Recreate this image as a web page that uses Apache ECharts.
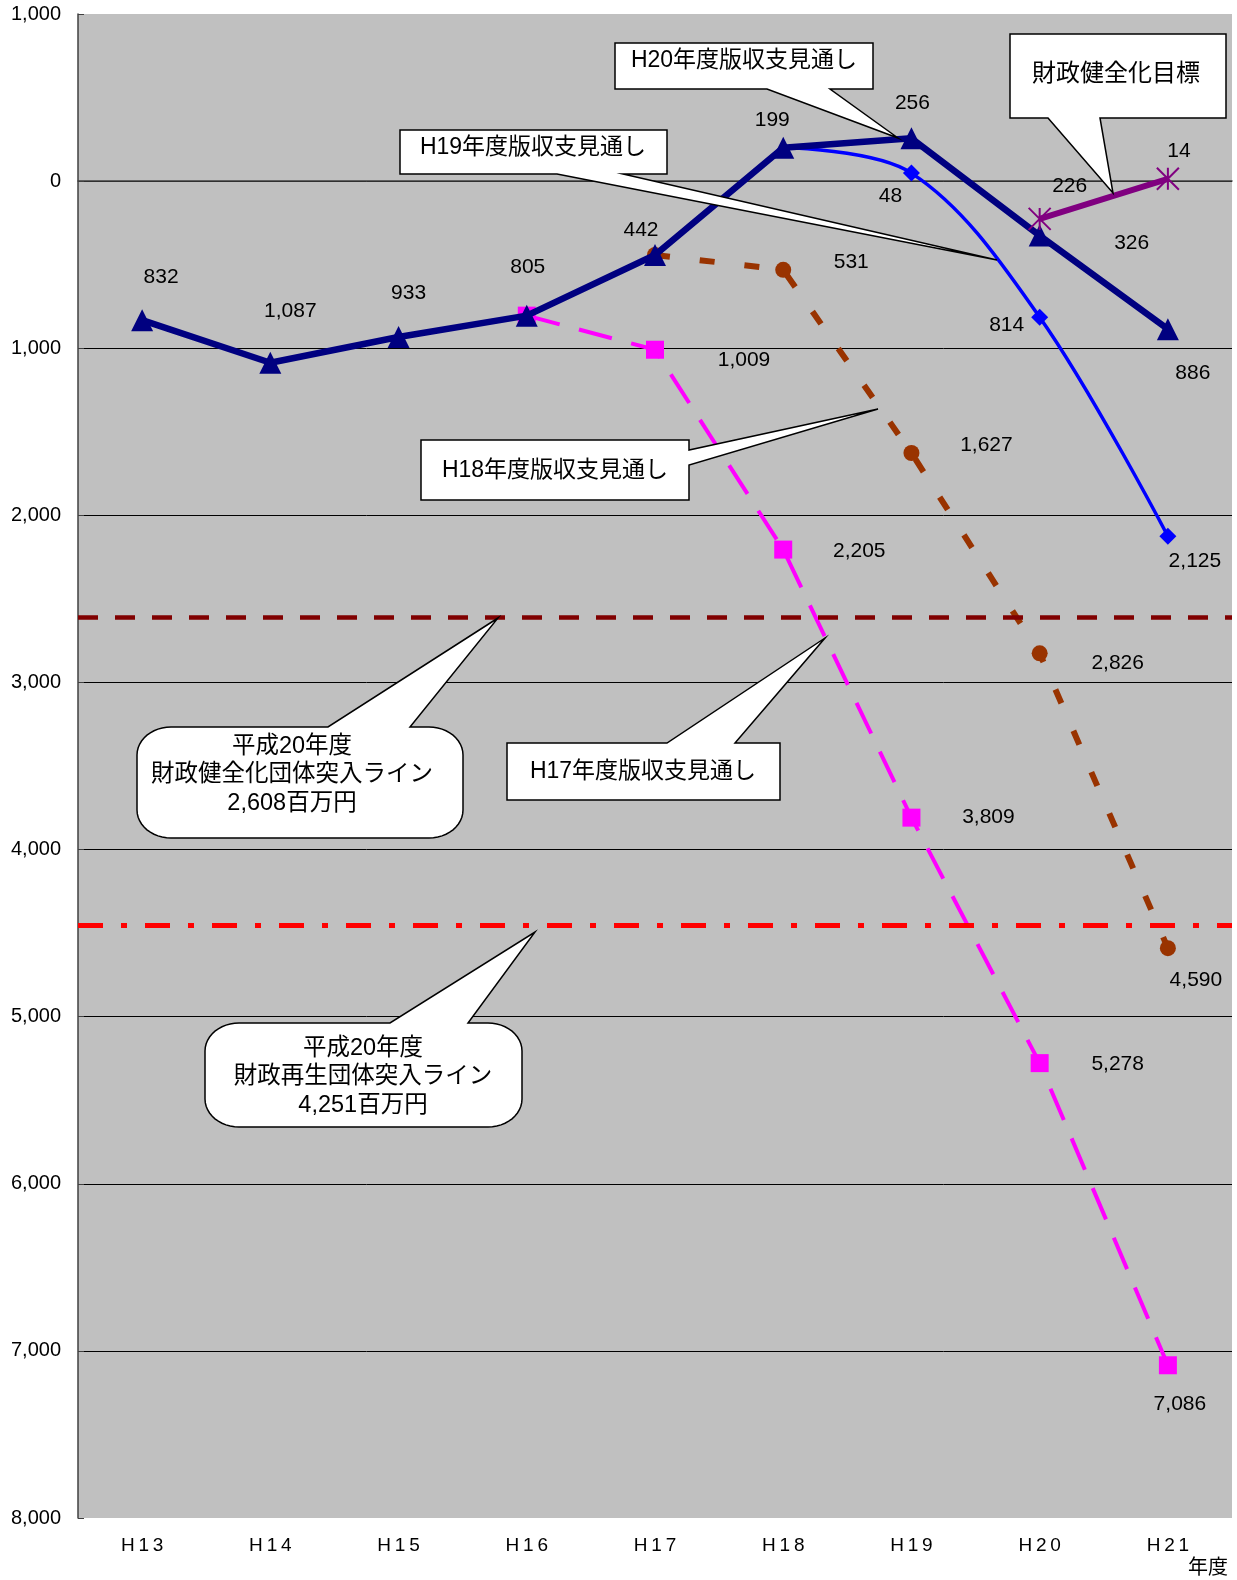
<!DOCTYPE html>
<html><head><meta charset="utf-8">
<script src="https://cdn.jsdelivr.net/npm/echarts@6/dist/echarts.min.js"></script>
<style>html,body{margin:0;padding:0;background:#fff}#c{width:1237px;height:1580px}</style>
</head><body><div id="c"></div>
<script>
// ---- data ----
const categories = ['H13','H14','H15','H16','H17','H18','H19','H20','H21'];
const yMin = -8000, yMax = 1000, yStep = 1000;
const planH20 = [-832, -1087, -933, -805, -442, 199, 256, -326, -886];
const planH19 = [null, null, null, null, null, 199, 48, -814, -2125];
const planH18 = [null, null, null, null, -442, -531, -1627, -2826, -4590];
const planH17 = [null, null, null, -805, -1009, -2205, -3809, -5278, -7086];
const target  = [null, null, null, null, null, null, null, -226, 14];
const kenzenkaLine = -2608;   // 財政健全化団体突入ライン
const saiseiLine = -4450;     // 財政再生団体突入ライン (drawn position)

// ---- label offsets (styling) ----
const offH20 = [[19,-43],[20,-52],[10,-44],[1,-48],[-14,-25],[-11,-28],[1,-35],[92,8],[25,44]];
const offH19 = [null,null,null,null,null,null,[-21,23],[-33,8],[27,25]];
const offH18 = [null,null,null,null,null,[68,-8],[75,-8],[78,10],[28,32]];
const offH17 = [null,null,null,null,[89,10],[76,2],[77,0],[78,1],[12,39]];
const offTgt = [null,null,null,null,null,null,null,[30,-33],[11,-28]];

const FONT = '"Liberation Sans", "Noto Sans CJK JP", sans-serif';
const fmt = v => Math.abs(v).toLocaleString('en-US');

function items(vals, offs, noSymFirst) {
  let first = true;
  return vals.map((v, i) => {
    if (v === null) return '-';
    const it = { value: v };
    if (offs[i]) {
      it.label = { show: true, position: 'inside', offset: offs[i] };
    } else {
      it.label = { show: false };
    }
    if (noSymFirst && first) it.symbol = 'none';
    first = false;
    return it;
  });
}

const labelBase = {
  show: true, position: 'inside', color: '#000', fontSize: 21, fontFamily: FONT,
  formatter: p => fmt(p.value)
};

// ---- callout geometry helpers ----
function rectCallout(x1, y1, x2, y2, side, b1, b2, tip) {
  if (side === 'bottom') return [[x1,y1],[x2,y1],[x2,y2],[b2,y2],tip,[b1,y2],[x1,y2]];
  if (side === 'right') return [[x1,y1],[x2,y1],[x2,b1],tip,[x2,b2],[x2,y2],[x1,y2]];
  return [[x1,y1],[b1,y1],tip,[b2,y1],[x2,y1],[x2,y2],[x1,y2]];
}
function bubble(x1, y1, x2, y2, rx, ry, b1, b2, tip) {
  const pts = [[x1+rx, y1], [b1, y1], tip, [b2, y1], [x2-rx, y1]];
  const arc = (cx, cy, a0, a1) => {
    for (let k = 0; k <= 12; k++) {
      const a = (a0 + (a1 - a0) * k / 12) * Math.PI / 180;
      pts.push([cx + rx * Math.cos(a), cy + ry * Math.sin(a)]);
    }
  };
  arc(x2-rx, y1+ry, -90, 0);
  arc(x2-rx, y2-ry, 0, 90);
  arc(x1+rx, y2-ry, 90, 180);
  arc(x1+rx, y1+ry, 180, 270);
  return pts;
}
const boxStyle = { fill: '#fff', stroke: '#000', lineWidth: 1.5 };
function poly(points) { return { type: 'polygon', z: 100, shape: { points }, style: boxStyle }; }
function txt(x, y, text, size, lh) {
  return { type: 'text', z: 101, x, y, style: {
    text, font: size + 'px ' + FONT, fill: '#000',
    align: 'center', verticalAlign: 'middle', textAlign: 'center', textVerticalAlign: 'middle',
    lineHeight: lh || size
  }};
}

const graphics = [
  poly(rectCallout(615, 43, 873, 89, 'bottom', 767, 830, [898, 138])),
  txt(744, 61, 'H20年度版収支見通し', 23),
  poly(rectCallout(400, 130, 667, 174, 'bottom', 557, 623, [997, 260])),
  txt(533, 148, 'H19年度版収支見通し', 23),
  poly(rectCallout(421, 440, 689, 500, 'right', 450, 465, [878, 409])),
  txt(555, 471, 'H18年度版収支見通し', 23),
  poly(rectCallout(507, 743, 780, 800, 'top', 667, 735, [825, 638])),
  txt(643, 772, 'H17年度版収支見通し', 23),
  poly(rectCallout(1010, 34, 1226, 118, 'bottom', 1048, 1100, [1113, 193])),
  txt(1116, 74, '財政健全化目標', 24),
  poly(bubble(137, 727, 463, 838, 34, 28, 328, 410, [498, 618])),
  txt(292, 775, '平成20年度\n財政健全化団体突入ライン\n2,608百万円', 23.5, 28.5),
  poly(bubble(205, 1023, 522, 1127, 34, 28, 390, 468, [535, 932])),
  txt(363, 1077, '平成20年度\n財政再生団体突入ライン\n4,251百万円', 23.5, 28.5),
  { type: 'text', z: 101, x: 1208, y: 1568, style: { text: '年度', font: '20px ' + FONT, fill: '#000',
    align: 'center', verticalAlign: 'middle', textAlign: 'center', textVerticalAlign: 'middle' } }
];

const chart = echarts.init(document.getElementById('c'), null, { renderer: 'canvas' });
chart.setOption({
  animation: false,
  backgroundColor: '#fff',
  grid: { left: 78, right: 5, top: 14, bottom: 62, show: true, backgroundColor: '#C0C0C0', borderWidth: 0 },
  xAxis: {
    type: 'category', data: categories, boundaryGap: true,
    axisLine: { lineStyle: { color: '#404040', width: 1.5 } },
    axisTick: { inside: true, length: 6, lineStyle: { color: '#404040' } },
    axisLabel: { fontSize: 19, color: '#000', fontFamily: FONT, margin: 18,
      formatter: v => v.split('').join('\u2009') },
    splitLine: { show: false }
  },
  yAxis: {
    type: 'value', min: yMin, max: yMax, interval: yStep,
    axisLine: { show: true, lineStyle: { color: '#404040', width: 1.5 } },
    axisTick: { show: true, inside: true, length: 6, lineStyle: { color: '#404040' } },
    axisLabel: { fontSize: 20, color: '#000', fontFamily: FONT, margin: 17, formatter: v => fmt(v) },
    splitLine: { show: true, showMaxLine: false, showMinLine: false, lineStyle: { color: '#000', width: 1 } }
  },
  series: [
    {
      type: 'line', z: 1, data: categories.map(() => '-'), symbol: 'none', silent: true,
      markLine: {
        silent: true, symbol: 'none', label: { show: false },
        data: [
          { yAxis: kenzenkaLine, lineStyle: { color: '#800000', width: 4.5, type: [20, 17] } },
          { yAxis: saiseiLine, lineStyle: { color: '#FF0000', width: 5, type: [25, 18, 6, 18] } }
        ]
      }
    },
    {
      name: 'H17年度版', type: 'line', z: 3, data: items(planH17, offH17),
      symbol: 'rect', symbolSize: 18, showAllSymbol: true,
      itemStyle: { color: '#FF00FF', borderWidth: 0 },
      lineStyle: { color: '#FF00FF', width: 4, type: [34, 20] },
      label: labelBase
    },
    {
      name: 'H18年度版', type: 'line', z: 4, data: items(planH18, offH18),
      symbol: 'circle', symbolSize: 16, showAllSymbol: true,
      itemStyle: { color: '#993300', borderWidth: 0 },
      lineStyle: { color: '#993300', width: 6, type: [15, 30] },
      label: labelBase
    },
    {
      name: 'H19年度版', type: 'line', z: 5, data: items(planH19, offH19, true),
      symbol: 'diamond', symbolSize: 17, showAllSymbol: true, smooth: 0.35,
      itemStyle: { color: '#0000FF', borderWidth: 0 },
      lineStyle: { color: '#0000FF', width: 3.5 },
      label: labelBase
    },
    {
      name: 'H20年度版', type: 'line', z: 6, data: items(planH20, offH20),
      symbol: 'triangle', symbolSize: 22, showAllSymbol: true,
      itemStyle: { color: '#000080', borderWidth: 0 },
      lineStyle: { color: '#000080', width: 6.5 },
      label: labelBase
    },
    {
      name: '財政健全化目標', type: 'line', z: 7, data: items(target, offTgt),
      symbol: 'path://M0,0L20,20M20,0L0,20M10,0L10,20', symbolSize: 22, showAllSymbol: true,
      itemStyle: { color: '#800080', borderColor: '#800080', borderWidth: 2 },
      lineStyle: { color: '#800080', width: 6 },
      label: labelBase
    }
  ],
  graphic: graphics
});
</script>
</body></html>
